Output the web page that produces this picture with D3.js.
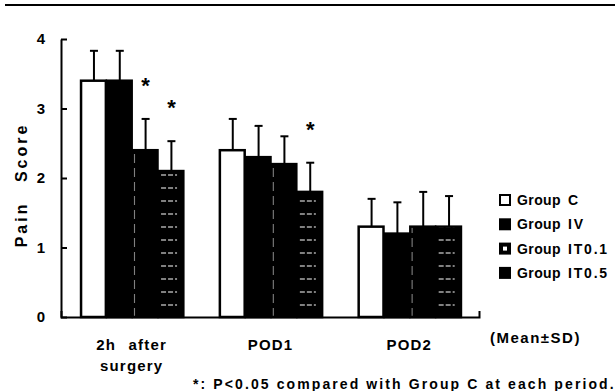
<!DOCTYPE html>
<html>
<head>
<meta charset="utf-8">
<script src="https://cdn.jsdelivr.net/npm/d3@7"></script>
<style>
  body { margin: 0; background: #fff; }
  text { font-family: "Liberation Sans", Arial, sans-serif; font-weight: bold; fill: #000; }
</style>
</head>
<body>
<svg id="chart" width="615" height="391"></svg>
<script>
// periods and groups
var periods = ["2h after surgery", "POD1", "POD2"];
var periodLabels = [["2h after", "surgery"], ["POD1"], ["POD2"]];
var groups = ["Group C", "Group IV", "Group IT0.1", "Group IT0.5"];

// mean pain score per group, one value per period
var meanC    = [3.4, 2.4, 1.3];
var meanIV   = [3.4, 2.3, 1.2];
var meanIT01 = [2.4, 2.2, 1.3];
var meanIT05 = [2.1, 1.8, 1.3];

// SD per group
var sdC    = [0.43, 0.45, 0.40];
var sdIV   = [0.43, 0.45, 0.45];
var sdIT01 = [0.45, 0.40, 0.50];
var sdIT05 = [0.43, 0.42, 0.44];

// significant vs group C: [period index, group index]
var signif = [[0, 2], [0, 3], [1, 3]];

var yTicks = [0, 1, 2, 3, 4];

var means = [meanC, meanIV, meanIT01, meanIT05];
var sds = [sdC, sdIV, sdIT01, sdIT05];

var svg = d3.select("#chart");

// patterns for the two hatched groups
var defs = svg.append("defs");
var p1 = defs.append("pattern").attr("id", "pat01").attr("patternUnits", "userSpaceOnUse")
    .attr("width", 26).attr("height", 14);
p1.append("rect").attr("width", 26).attr("height", 14).attr("fill", "#000");
p1.append("line").attr("x1", 2).attr("x2", 2).attr("y1", 0).attr("y2", 9)
    .attr("stroke", "#fff").attr("stroke-width", 1);
var p2 = defs.append("pattern").attr("id", "pat05").attr("patternUnits", "userSpaceOnUse")
    .attr("width", 26).attr("height", 13);
p2.append("rect").attr("width", 26).attr("height", 13).attr("fill", "#000");
p2.append("line").attr("x1", 3).attr("x2", 19).attr("y1", 6).attr("y2", 6)
    .attr("stroke", "#fff").attr("stroke-width", 1.2).attr("stroke-dasharray", "5,2");

var fills = ["#fff", "#000", "url(#pat01)", "url(#pat05)"];

// top rule
svg.append("line").attr("x1", 5).attr("x2", 615).attr("y1", 5).attr("y2", 5)
    .attr("stroke", "#000").attr("stroke-width", 2);

var x0 = d3.scaleBand().domain(periods).range([62, 479]).paddingInner(0.256).paddingOuter(0.13);
var x1 = d3.scaleBand().domain(groups).range([0, x0.bandwidth()]);
var y = d3.scaleLinear().domain([0, 4]).range([317, 39]);

// bars
var gPeriods = svg.selectAll(".period").data(periods).enter().append("g")
    .attr("class", "period")
    .attr("transform", function(d) { return "translate(" + x0(d) + ",0)"; });

gPeriods.each(function(p, pi) {
    var g = d3.select(this);
    var rows = groups.map(function(gr, gi) {
        return { group: gr, gi: gi, mean: means[gi][pi], sd: sds[gi][pi] };
    });
    g.selectAll("rect").data(rows).enter().append("rect")
        .attr("x", function(d) { return x1(d.group) + 1; })
        .attr("y", function(d) { return y(d.mean); })
        .attr("width", x1.bandwidth() - 1)
        .attr("height", function(d) { return y(0) - y(d.mean); })
        .attr("fill", function(d) { return fills[d.gi]; })
        .attr("stroke", "#000").attr("stroke-width", 2.5);

    var eb = g.selectAll(".eb").data(rows).enter().append("g").attr("class", "eb");
    eb.append("line")
        .attr("x1", function(d) { return x1(d.group) + x1.bandwidth() / 2 + 1; })
        .attr("x2", function(d) { return x1(d.group) + x1.bandwidth() / 2 + 1; })
        .attr("y1", function(d) { return y(d.mean); })
        .attr("y2", function(d) { return y(d.mean + d.sd); })
        .attr("stroke", "#000").attr("stroke-width", 2);
    eb.append("line")
        .attr("x1", function(d) { return x1(d.group) + x1.bandwidth() / 2 - 3; })
        .attr("x2", function(d) { return x1(d.group) + x1.bandwidth() / 2 + 5; })
        .attr("y1", function(d) { return y(d.mean + d.sd); })
        .attr("y2", function(d) { return y(d.mean + d.sd); })
        .attr("stroke", "#000").attr("stroke-width", 2);
});

// asterisks
svg.selectAll(".star").data(signif).enter().append("text")
    .attr("class", "star")
    .attr("x", function(d) { return x0(periods[d[0]]) + x1(groups[d[1]]) + x1.bandwidth() / 2 + 1; })
    .attr("y", function(d) { return y(means[d[1]][d[0]] + sds[d[1]][d[0]]) - 26; })
    .attr("text-anchor", "middle")
    .style("font-size", "22px")
    .text("*");

// y axis
var yAxis = d3.axisLeft(y).tickValues(yTicks).tickFormat(d3.format("d"))
    .tickSizeInner(-6).tickSizeOuter(0).tickPadding(16);
var ya = svg.append("g").attr("transform", "translate(61,0)").call(yAxis);
ya.selectAll("path, line").attr("stroke", "#000").attr("stroke-width", 2);
ya.selectAll("text").style("font-size", "15px").style("font-family", "Liberation Sans, Arial, sans-serif")
    .style("font-weight", "bold");

// x baseline
var xLine = d3.scaleLinear().range([61, 479]);
var xAxis = d3.axisBottom(xLine).tickValues([]).tickSizeOuter(-6);
var xa = svg.append("g").attr("transform", "translate(0,317)").call(xAxis);
xa.select("path").attr("stroke", "#000").attr("stroke-width", 2).attr("fill", "none");

// period labels
svg.selectAll(".plab").data(periods).enter().append("text")
    .attr("class", "plab")
    .attr("x", function(d) { return x0(d) + x0.bandwidth() / 2; })
    .attr("y", 350)
    .attr("text-anchor", "middle")
    .style("font-size", "15px")
    .attr("letter-spacing", "1.2px")
    .each(function(d, i) {
        var t = d3.select(this);
        periodLabels[i].forEach(function(line, li) {
            t.append("tspan").attr("x", x0(d) + x0.bandwidth() / 2)
                .attr("dy", li === 0 ? 0 : 21).attr("word-spacing", "7px").text(line);
        });
    });

// y label
svg.append("text")
    .attr("transform", "translate(27,185) rotate(-90)")
    .attr("text-anchor", "middle")
    .style("font-size", "16px")
    .attr("letter-spacing", "3px")
    .attr("word-spacing", "12px")
    .text("Pain Score");

// legend
var leg = svg.selectAll(".leg").data(groups).enter().append("g")
    .attr("class", "leg")
    .attr("transform", function(d, i) { return "translate(500," + (200 + i * 24.3) + ")"; });
leg.append("rect").attr("x", 0).attr("y", -5).attr("width", 10).attr("height", 10)
    .attr("fill", function(d, i) { return i === 0 ? "#fff" : "#000"; })
    .attr("stroke", "#000").attr("stroke-width", 2);
leg.filter(function(d, i) { return i === 2; }).append("rect")
    .attr("x", 3).attr("y", -2).attr("width", 4).attr("height", 4).attr("fill", "#fff");
var legText = leg.append("text").attr("y", 5).style("font-size", "14px");
legText.append("tspan").attr("x", 17).attr("letter-spacing", "0.4px")
    .text(function(d) { return d.split(" ")[0]; });
legText.append("tspan").attr("x", 68).attr("letter-spacing", "1.8px")
    .text(function(d) { return d.split(" ")[1]; });

// notes
svg.append("text").attr("x", 490).attr("y", 343).style("font-size", "15px")
    .attr("letter-spacing", "1.5px").text("(Mean\u00b1SD)");
svg.append("text").attr("x", 193).attr("y", 389).style("font-size", "14px")
    .attr("letter-spacing", "2.1px")
    .text("*: P<0.05 compared with Group C at each period.");
</script>
</body>
</html>
